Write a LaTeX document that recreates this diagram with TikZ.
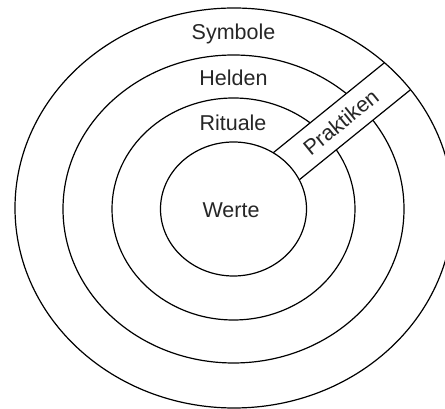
\documentclass[tikz,border=0pt]{standalone}
\usepackage{fontspec}
\setmainfont{Liberation Sans}
\begin{document}
\begin{tikzpicture}[x=1pt,y=1pt,
  ring/.style={draw=black, line width=1.2pt},
  lbl/.style={font=\fontsize{21.5}{24}\selectfont, text=black!85, inner sep=0pt}]
\useasboundingbox (0,0) rectangle (445,409);
\coordinate (C) at (233.5,200);
\coordinate (Co) at (234,201);
\begin{scope}
  \clip (0,0) rectangle (445,409);
  \draw[ring] (C) ellipse [x radius=170.5, y radius=154];
  \draw[ring] (C) ellipse [x radius=121.5, y radius=111];
  \begin{scope}
    \clip (Co) ellipse [x radius=219, y radius=200];
    \begin{scope}[shift={(C)}, rotate=39]
      \fill[white] (0,-18.7) rectangle (280,18.7);
      \draw[ring] (0,18.7) -- (280,18.7);
      \draw[ring] (0,-18.7) -- (280,-18.7);
      \coordinate (P) at (138,0);
    \end{scope}
  \end{scope}
  \draw[ring, fill=white] (C) ellipse [x radius=73, y radius=67];
  \draw[ring] (Co) ellipse [x radius=219, y radius=200];
\end{scope}
\node[lbl, anchor=base] (symbole) at (233.5,369) {Symbole};
\node[lbl, anchor=base] (helden) at (233.5,323.5) {Helden};
\node[lbl, anchor=base] (rituale) at (233,278) {Rituale};
\node[lbl, anchor=base] (werte) at (231,191) {Werte};
\node[lbl, rotate=39] (praktiken) at (P) {Praktiken};
\end{tikzpicture}
\end{document}
